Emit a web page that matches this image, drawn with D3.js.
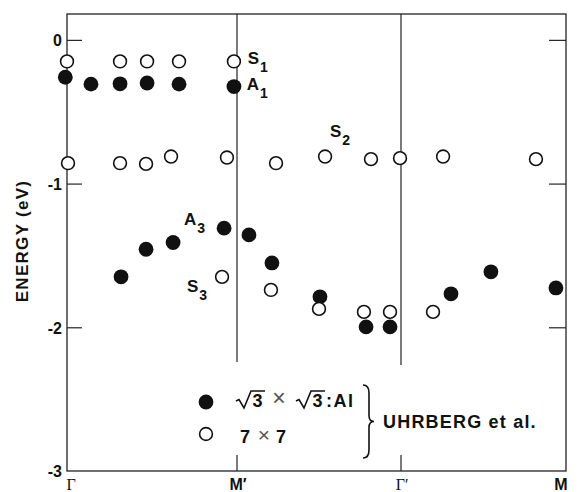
<!DOCTYPE html>
<html>
<head>
<meta charset="utf-8">
<script src="https://cdnjs.cloudflare.com/ajax/libs/d3/7.8.5/d3.min.js"></script>
<style>
  body { margin: 0; background: #fff; }
  svg text { font-family: "Liberation Sans", Arial, sans-serif; fill: #111; }
</style>
</head>
<body>
<div id="chart"></div>
<script>
// symmetry points along the k path
const kPoints = ['Γ', 'M′', 'Γ′', 'M'];
const energyTicks = [0, -1, -2, -3];

// 7x7 surface states (open circles): [k, energy]
const open7x7 = [
  [0, -0.15], [0.312, -0.15], [0.471, -0.15], [0.659, -0.15], [0.982, -0.15],
  [0.006, -0.858], [0.312, -0.858], [0.465, -0.863], [0.612, -0.812], [0.941, -0.819],
  [1.238, -0.858], [1.537, -0.812], [1.817, -0.83], [1.994, -0.823], [2.255, -0.812], [2.818, -0.83],
  [0.912, -1.649], [1.207, -1.74], [1.5, -1.872], [1.774, -1.893], [1.933, -1.893], [2.194, -1.893]
];

// sqrt3 x sqrt3 : Al (filled circles)
const filledAl = [
  [-0.01, -0.26], [0.141, -0.308], [0.312, -0.306], [0.471, -0.30], [0.659, -0.308], [0.982, -0.325],
  [0.318, -1.649], [0.465, -1.457], [0.624, -1.41], [0.924, -1.31], [1.073, -1.357],
  [1.213, -1.552], [1.506, -1.788], [1.787, -1.997], [1.933, -1.997],
  [2.303, -1.767], [2.545, -1.614], [2.939, -1.726]
];

// band labels: [text, subscript, k, energy]
const bandLabels = [
  ['S', '1', 1.065, -0.167],
  ['A', '1', 1.06, -0.35],
  ['S', '2', 1.567, -0.675],
  ['A', '3', 0.688, -1.287],
  ['S', '3', 0.706, -1.755]
];

const W = 577, H = 492;
const svg = d3.select('#chart').append('svg')
  .attr('width', W).attr('height', H);

const x = d3.scaleLinear().domain([0, 1, 2, 3]).range([67, 237, 401, 566]);
const y = d3.scaleLinear().domain([-3, 0.18]).range([471, 14]);

const fLeft = x(0), fRight = x(3), fTop = y(0.18), fBottom = y(-3);

// frame
svg.append('rect')
  .attr('x', fLeft).attr('y', fTop)
  .attr('width', fRight - fLeft).attr('height', fBottom - fTop)
  .attr('fill', 'none').attr('stroke', '#222').attr('stroke-width', 1.3);

// vertical lines at M' and Γ'
[1, 2].forEach(k => {
  svg.append('line')
    .attr('x1', x(k)).attr('x2', x(k))
    .attr('y1', fTop).attr('y2', k === 1 ? 362 : 365)
    .attr('stroke', '#222').attr('stroke-width', 1.2);
  svg.append('line')
    .attr('x1', x(k)).attr('x2', x(k))
    .attr('y1', fBottom).attr('y2', fBottom - 16)
    .attr('stroke', '#222').attr('stroke-width', 1.2);
});

// y axis ticks (left and right, inward)
const yAxisL = d3.axisLeft(y).tickValues(energyTicks).tickSize(-15).tickPadding(5)
  .tickFormat(d => d === 0 ? '0' : '-' + Math.abs(d));
const gL = svg.append('g').attr('transform', `translate(${fLeft},0)`).call(yAxisL);
gL.select('.domain').remove();
gL.selectAll('line').attr('stroke', '#222').attr('stroke-width', 1.2);
gL.selectAll('text').style('font-size', '16px').style('font-weight', 'bold')
  .attr('x', -5).attr('dy', '0.36em');
gL.selectAll('.tick').filter(d => d === -3).select('line').remove();

const yAxisR = d3.axisRight(y).tickValues([0, -1, -2]).tickSize(-17).tickFormat('');
const gR = svg.append('g').attr('transform', `translate(${fRight},0)`).call(yAxisR);
gR.select('.domain').remove();
gR.selectAll('line').attr('stroke', '#222').attr('stroke-width', 1.2);

// x labels
svg.selectAll('.klabel').data(kPoints).enter().append('text')
  .attr('class', 'klabel')
  .attr('x', (d, i) => x(i) + (i === 0 ? 4 : i === 3 ? -5 : 1))
  .attr('y', 490)
  .attr('text-anchor', 'middle')
  .style('font-size', '16px')
  .style('font-weight', (d, i) => (i % 2 === 1) ? 'bold' : 'normal')
  .style('font-family', (d, i) => (i % 2 === 0) ? '"Liberation Serif", serif' : null)
  .text(d => d);

// y axis title
svg.append('text')
  .attr('transform', `translate(28,${241}) rotate(-90)`)
  .attr('text-anchor', 'middle')
  .style('font-size', '17px')
  .style('font-weight', 'bold')
  .style('letter-spacing', '1.3px')
  .text('ENERGY (eV)');

// filled points
svg.selectAll('.filled').data(filledAl).enter().append('circle')
  .attr('class', 'filled')
  .attr('cx', d => x(d[0])).attr('cy', d => y(d[1]))
  .attr('r', 7.4).attr('fill', '#111');

// open points
svg.selectAll('.open').data(open7x7).enter().append('circle')
  .attr('class', 'open')
  .attr('cx', d => x(d[0])).attr('cy', d => y(d[1]))
  .attr('r', 6.4).attr('fill', '#fff').attr('stroke', '#111').attr('stroke-width', 1.6);

// band labels
bandLabels.forEach(([t, sub, k, e]) => {
  const txt = svg.append('text')
    .attr('x', x(k)).attr('y', y(e))
    .style('font-size', '17px').style('font-weight', 'bold');
  txt.append('tspan').text(t);
  txt.append('tspan').attr('dx', 1).attr('dy', 8).style('font-size', '14px').text(sub);
});

// legend
const lg = svg.append('g');
lg.append('circle').attr('cx', 206).attr('cy', 402).attr('r', 7.4).attr('fill', '#111');
lg.append('circle').attr('cx', 206).attr('cy', 434).attr('r', 6.4)
  .attr('fill', '#fff').attr('stroke', '#111').attr('stroke-width', 1.6);

function radical(xPos, base) {
  // hand drawn square-root sign with bar over the 3
  lg.append('path')
    .attr('d', `M${xPos},${base - 6} L${xPos + 3},${base - 7.5} L${xPos + 8},${base + 1}
      L${xPos + 15},${base - 16} L${xPos + 29},${base - 16}`)
    .attr('fill', 'none').attr('stroke', '#111').attr('stroke-width', 1.6)
    .attr('stroke-linejoin', 'miter');
  lg.append('text').attr('x', xPos + 16.5).attr('y', base)
    .style('font-size', '18px').style('font-weight', 'bold').text('3');
}
const row1 = 407, row2 = 443;
radical(236, row1);
lg.append('text').attr('x', 279).attr('y', row1 - 1).attr('text-anchor', 'middle')
  .style('font-size', '23px').style('fill', '#555').text('×');
radical(296, row1);
lg.append('text').attr('x', 326).attr('y', row1)
  .style('font-size', '18px').style('font-weight', 'bold').style('letter-spacing', '1.5px').text(':Al');

lg.append('text').attr('x', 240).attr('y', row2)
  .style('font-size', '18px').style('font-weight', 'bold').text('7');
lg.append('text').attr('x', 264).attr('y', row2 - 1).attr('text-anchor', 'middle')
  .style('font-size', '21px').style('fill', '#555').text('×');
lg.append('text').attr('x', 276).attr('y', row2)
  .style('font-size', '18px').style('font-weight', 'bold').text('7');

// brace
const bx = 363, by0 = 385, by1 = 458, bm = (by0 + by1) / 2;
lg.append('path')
  .attr('d', `M${bx},${by0} Q${bx + 6},${by0} ${bx + 6},${by0 + 8} L${bx + 6},${bm - 6}
    Q${bx + 6},${bm} ${bx + 11},${bm} Q${bx + 6},${bm} ${bx + 6},${bm + 6}
    L${bx + 6},${by1 - 8} Q${bx + 6},${by1} ${bx},${by1}`)
  .attr('fill', 'none').attr('stroke', '#111').attr('stroke-width', 1.6);

lg.append('text').attr('x', 383).attr('y', 428)
  .style('font-size', '18px').style('font-weight', 'bold').style('letter-spacing', '1.2px')
  .text('UHRBERG et al.');
</script>
</body>
</html>
